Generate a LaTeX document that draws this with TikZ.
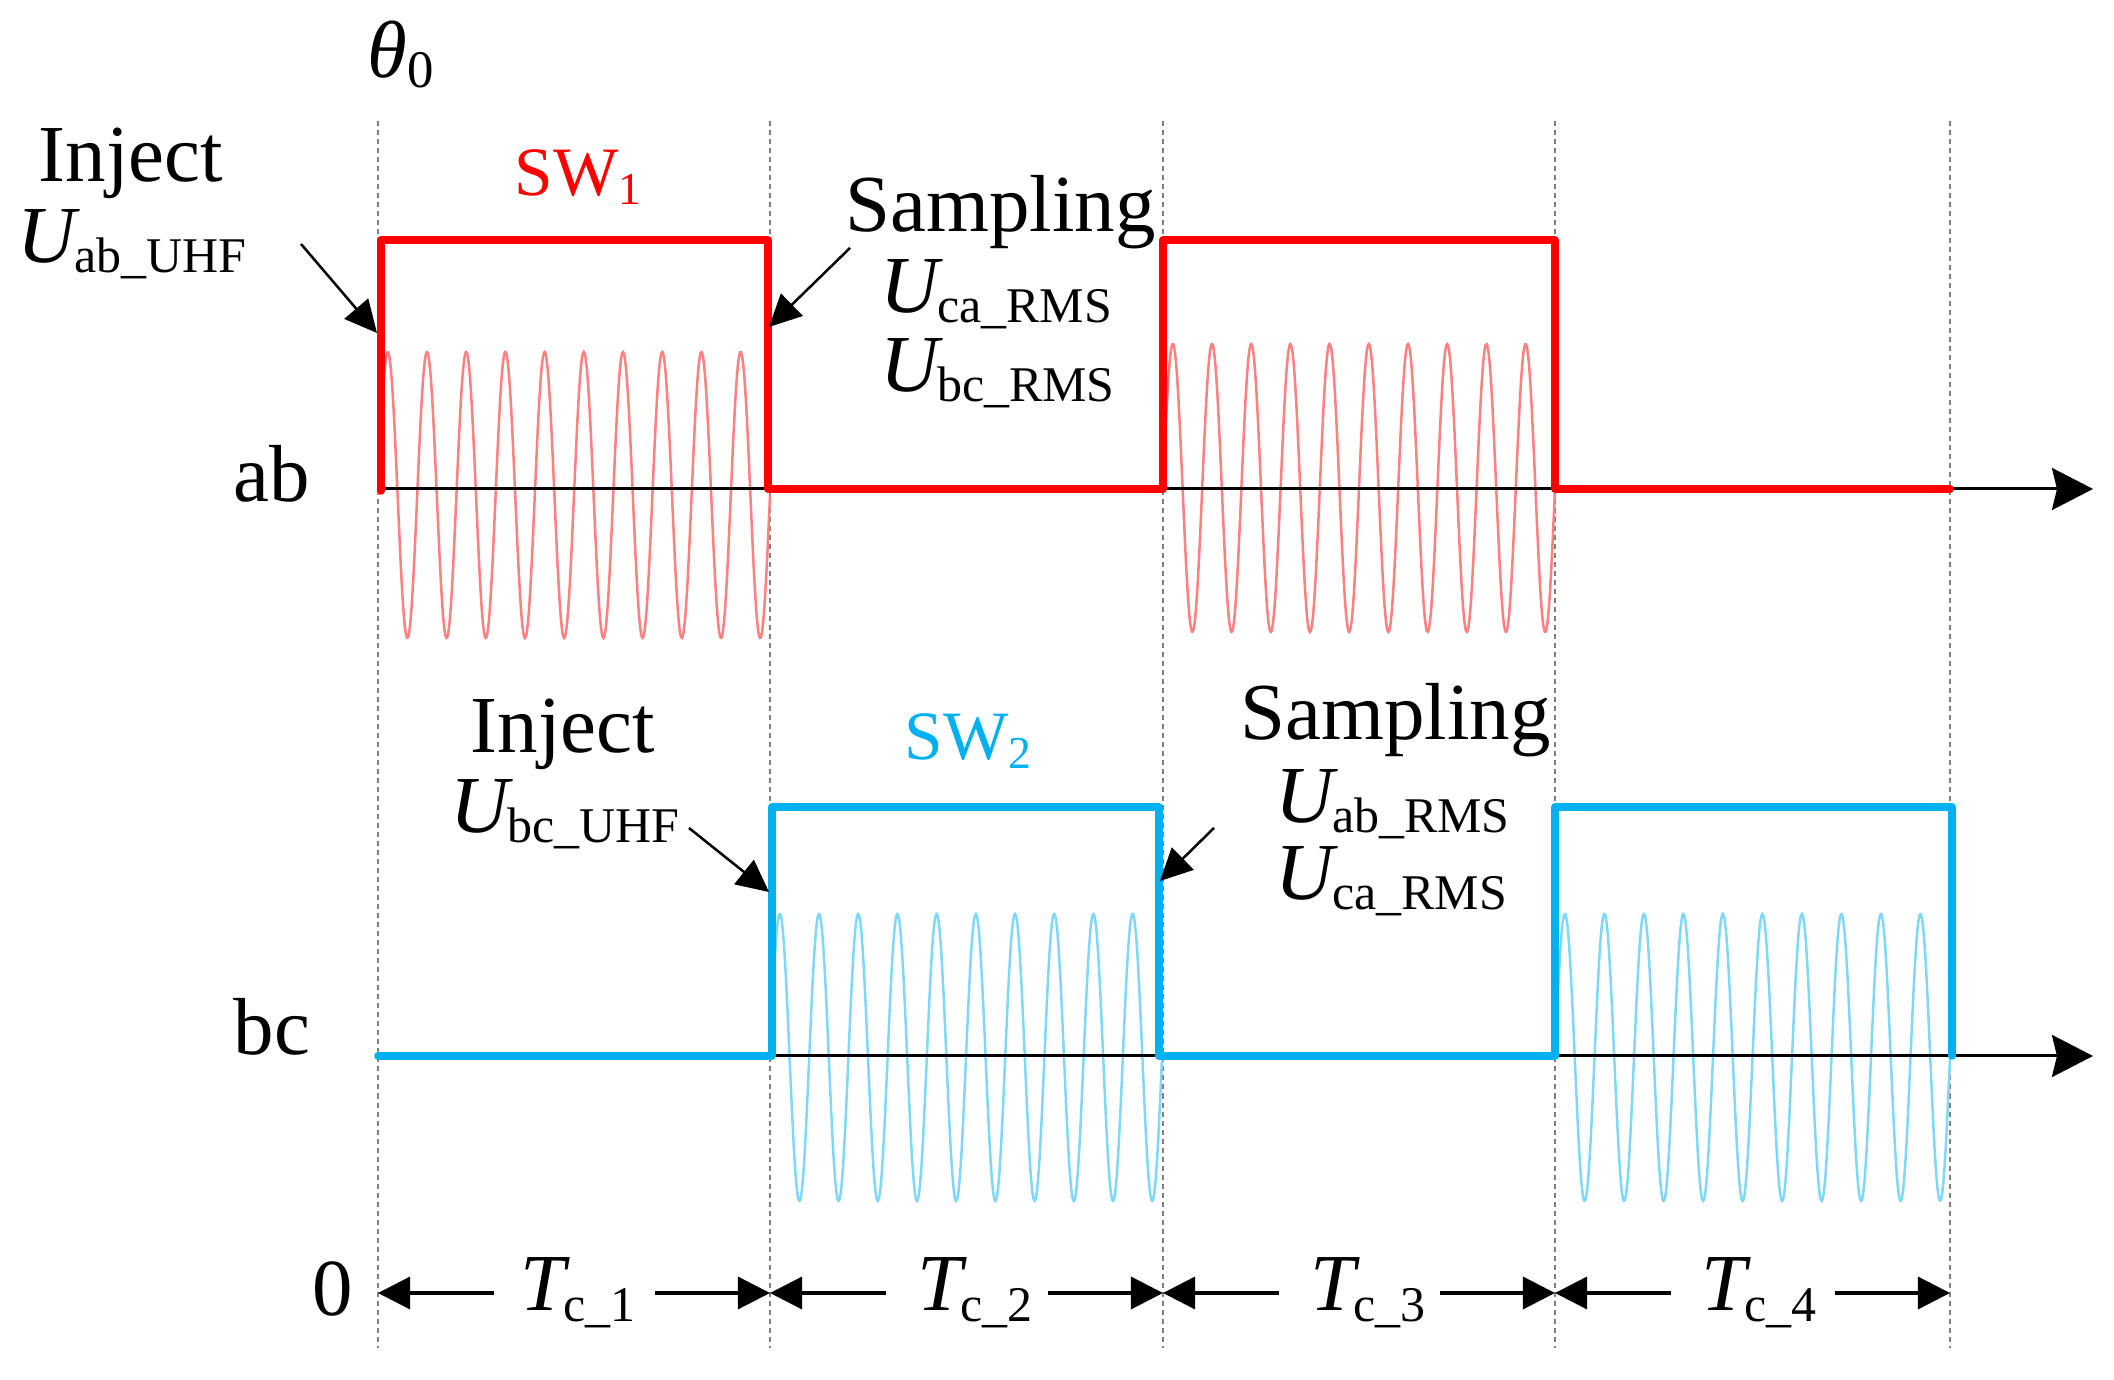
\documentclass[tikz,border=0pt]{standalone}
\usepackage{fontspec}
\setmainfont{Liberation Serif}
\usepackage{graphicx}
\usetikzlibrary{arrows.meta}
\definecolor{swred}{RGB}{255,0,0}
\definecolor{swblue}{RGB}{0,176,240}
\definecolor{sinred}{RGB}{255,128,128}
\definecolor{sinblue}{RGB}{128,216,248}
\definecolor{dashgray}{RGB}{128,128,128}
\newcommand\mysub[1]{\raisebox{-0.1cm}{\fontsize{14.2}{15}\selectfont #1}}
\newcommand\ulbl[1]{{\itshape U}\kern-0.02cm\mysub{#1}}
\newcommand\tlbl[1]{{\itshape T}\kern-0.02cm\mysub{c\_#1}}
\begin{document}
\begin{tikzpicture}[x=0.01cm,y=-0.01cm,
  txt/.style={inner sep=0pt, anchor=base west, font=\fontsize{23}{27}\selectfont},
  swtxt/.style={inner sep=0pt, anchor=base west, font=\fontsize{19.7}{22}\selectfont},
  guide/.style={dashgray, line width=0.028cm, dash pattern=on 0.05cm off 0.04cm},
  axisline/.style={black, line width=0.03cm, -{Stealth[length=0.41cm,width=0.42cm,inset=0.05cm]}},
  pulse/.style={line width=0.075cm, line join=round, line cap=round},
  hfsine/.style={line width=0.025cm},
  callout/.style={black, line width=0.025cm, -{Triangle[length=0.32cm,width=0.31cm]}},
  tspan/.style={black, line width=0.033cm, -{Triangle[length=0.32cm,width=0.32cm]}}]
\useasboundingbox (0,0) rectangle (2114,1380);

% guide lines
\foreach \gx/\gn in {378/g0,770/g1,1163/g2,1555/g3,1950/g4}{
  \coordinate (\gn top) at (\gx,121);
  \coordinate (\gn bot) at (\gx,1348);
  \draw[guide] (\gn top) -- (\gn bot);
}

% HF sines
\draw[sinred,hfsine] plot[domain=0:392,samples=500,variable=\t] ({378+\t},{495-143*sin(\t/39.2*360)});
\draw[sinred,hfsine] plot[domain=0:392,samples=500,variable=\t] ({1163+\t},{488-144*sin(\t/39.2*360)});
\draw[sinblue,hfsine] plot[domain=0:392,samples=500,variable=\t] ({770+\t},{1057.5-143.5*sin(\t/39.2*360)});
\draw[sinblue,hfsine] plot[domain=0:395,samples=500,variable=\t] ({1555+\t},{1057.5-143.5*sin(\t/39.5*360)});

% axes
\coordinate (abO) at (378,489);
\coordinate (abE) at (2093,489);
\coordinate (bcO) at (378,1056);
\coordinate (bcE) at (2093,1056);
\draw[axisline] (abO) -- (abE);
\draw[axisline] (bcO) -- (bcE);

% switching pulses
\draw[swred,pulse] (381,491) -- (381,240) -- (768,240) -- (768,489) -- (1163,489) -- (1163,240) -- (1555,240) -- (1555,489) -- (1950,489);
\draw[swblue,pulse] (378,1056) -- (772,1056) -- (772,807) -- (1159,807) -- (1159,1056) -- (1555,1056) -- (1555,807) -- (1952,807) -- (1952,1056);

% labels
\node[txt] (theta) at (367,78) {\textit{θ}\raisebox{-0.1cm}{\fontsize{15}{16}\selectfont 0}};
\node[txt] (injA) at (38,182) {Inject};
\node[txt] (uabuhf) at (17,263) {\ulbl{ab\_UHF}};
\node[swtxt, swred] (sw1) at (514,196) {SW\raisebox{-0.09cm}{\fontsize{13}{14}\selectfont 1}};
\node[txt] (sampA) at (845,232) {Sampling};
\node[txt] (ucarmsA) at (880,313) {\ulbl{ca\_RMS}};
\node[txt] (ubcrmsA) at (880,392) {\ulbl{bc\_RMS}};
\node[txt] (ab) at (233,502) {ab};

\node[txt] (injB) at (470,753) {Inject};
\node[txt] (ubcuhf) at (450,833) {\ulbl{bc\_UHF}};
\node[swtxt, swblue] (sw2) at (904,760) {SW\raisebox{-0.09cm}{\fontsize{13}{14}\selectfont 2}};
\node[txt] (sampB) at (1240,740) {Sampling};
\node[txt] (uabrmsB) at (1275,823) {\ulbl{ab\_RMS}};
\node[txt] (ucarmsB) at (1275,900) {\ulbl{ca\_RMS}};
\node[txt] (bc) at (233,1055) {bc};

\node[txt] (zero) at (312,1316) {0};
\node[txt] (tc1) at (520,1311) {\tlbl{1}};
\node[txt] (tc2) at (917,1311) {\tlbl{2}};
\node[txt] (tc3) at (1310,1311) {\tlbl{3}};
\node[txt] (tc4) at (1701,1311) {\tlbl{4}};

% callout arrows
\coordinate (injAt) at (301,244);  \coordinate (injAh) at (377,333);
\coordinate (sampAt) at (850,248); \coordinate (sampAh) at (769,327);
\coordinate (injBt) at (689,828);  \coordinate (injBh) at (769,892);
\coordinate (sampBt) at (1214,828); \coordinate (sampBh) at (1160,881);
\draw[callout] (injAt) -- (injAh);
\draw[callout] (sampAt) -- (sampAh);
\draw[callout] (injBt) -- (injBh);
\draw[callout] (sampBt) -- (sampBh);

% period spans
\foreach \a/\b/\n in {378/770/1,770/1163/2,1163/1555/3,1555/1950/4}{
  \coordinate (L\n s) at ({\a+116},1293);
  \coordinate (L\n e) at (\a,1293);
  \coordinate (R\n s) at ({\b-115},1293);
  \coordinate (R\n e) at (\b,1293);
  \draw[tspan] (L\n s) -- (L\n e);
  \draw[tspan] (R\n s) -- (R\n e);
}
\end{tikzpicture}
\end{document}
